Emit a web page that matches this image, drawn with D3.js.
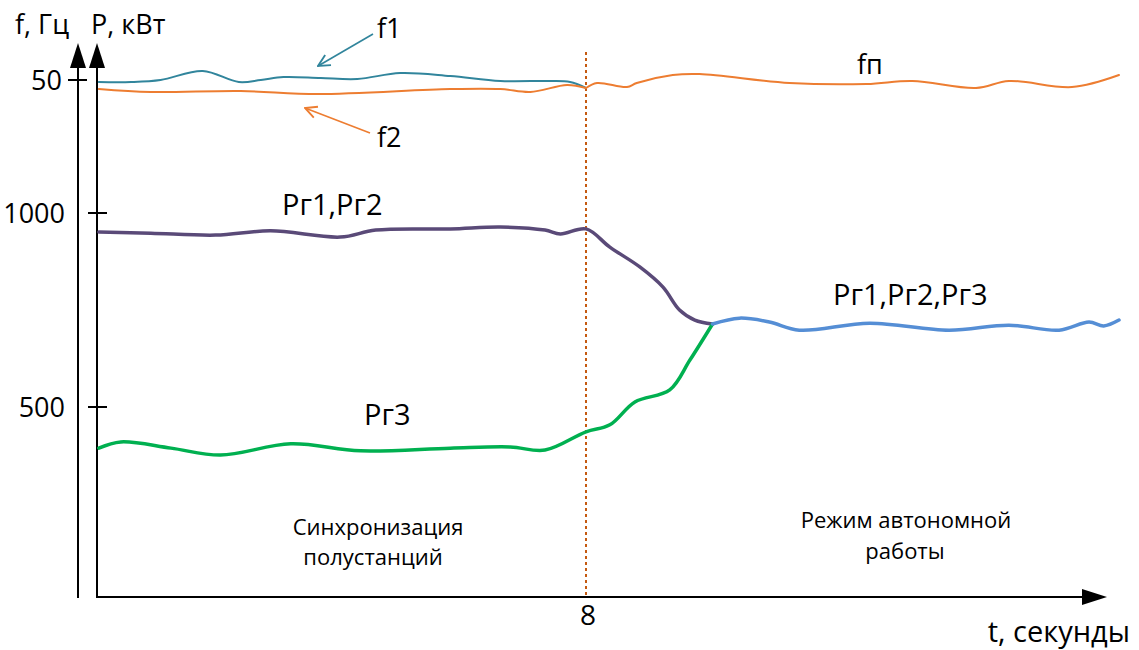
<!DOCTYPE html>
<html>
<meta charset="utf-8">
<title>Синхронизация подстанций</title>
<script src="https://d3js.org/d3.v7.min.js" charset="utf-8"></script>
<style>
	body { margin: 0; background: #fff; }
	text { font-family: "Open Sans", "Noto Sans", sans-serif; fill: #000; }
	.axis-line { stroke: #000; stroke-width: 2; }
</style>
<body>
<script>

	// time, seconds
	var f1T = [0.03, 0.56, 1.04, 1.73, 2.32, 2.68, 3.05, 3.66, 4.26, 4.96, 5.78, 6.60, 7.41, 7.74, 8.0];
	var f1V = [49.98, 49.98, 50.00, 50.09, 49.98, 50.00, 50.03, 50.02, 50.01, 50.07, 50.04, 49.99, 49.99, 49.98, 49.92];

	var f2T = [0.03, 0.88, 2.35, 3.61, 5.78, 6.60, 7.09, 7.69, 8.0];
	var f2V = [49.91, 49.88, 49.89, 49.86, 49.91, 49.91, 49.88, 49.95, 49.92];

	var fpT = [8.0, 8.18, 8.67, 8.83, 9.42, 9.86, 11.33, 12.59, 13.34, 14.38, 14.92, 15.95, 16.72];
	var fpV = [49.92, 49.97, 49.93, 49.97, 50.05, 50.06, 49.97, 49.96, 49.99, 49.92, 49.99, 49.93, 50.05];

	var p12T = [0.03, 0.88, 1.94, 2.84, 3.98, 4.56, 5.78, 6.60, 7.33, 7.58, 8.0, 8.39, 8.88, 9.26, 9.53, 9.78, 10.07];
	var p12V = [951, 948, 943, 954, 938, 956, 959, 964, 956, 946, 959, 912, 861, 809, 750, 724, 714];

	var p3T = [0.03, 0.39, 1.21, 2.02, 3.17, 4.31, 5.78, 6.76, 7.33, 8.0, 8.39, 8.80, 9.37, 9.70, 10.07];
	var p3V = [394, 410, 394, 376, 405, 387, 394, 397, 389, 436, 454, 513, 544, 621, 714];

	var p123T = [10.07, 10.51, 11.0, 11.49, 12.64, 13.94, 14.92, 15.74, 16.23, 16.47, 16.72];
	var p123V = [714, 729, 719, 698, 716, 698, 711, 698, 719, 709, 724];

	var pTicks = [500, 1000];
	var fTicks = [50];
	var tTicks = [8];
	var tSwitch = 8;

	var width = 1139, height = 650;
	var originX = 97, fAxisX = 78, baseY = 597, topY = 43;

	var x = d3.scaleLinear().domain([0, 8]).range([97, 586]);
	var yP = d3.scaleLinear().domain([0, 1000]).range([601, 213]);
	var yF = d3.scaleLinear().domain([48, 50]).range([280, 80]);

	var svg = d3.select("body").append("svg")
		.attr("width", width)
		.attr("height", height);

	var defs = svg.append("defs");
	function openArrow(id, color) {
		defs.append("marker")
			.attr("id", id)
			.attr("viewBox", "0 0 12 12")
			.attr("refX", 11).attr("refY", 6)
			.attr("markerWidth", 14).attr("markerHeight", 14)
			.attr("markerUnits", "userSpaceOnUse")
			.attr("orient", "auto")
			.append("path")
				.attr("d", "M1,1 L11,6 L1,11")
				.attr("fill", "none")
				.attr("stroke", color)
				.attr("stroke-width", 1.6);
	}
	openArrow("arrF1", "#31859C");
	openArrow("arrF2", "#ED7D31");

	/* axes */
	svg.append("line").attr("class", "axis-line")
		.attr("x1", fAxisX).attr("x2", fAxisX).attr("y1", baseY + 1).attr("y2", topY + 20);
	svg.append("line").attr("class", "axis-line")
		.attr("x1", originX).attr("x2", originX).attr("y1", baseY + 1).attr("y2", topY + 20);
	svg.append("line").attr("class", "axis-line")
		.attr("x1", originX - 1).attr("x2", 1085).attr("y1", baseY).attr("y2", baseY);

	[fAxisX, originX].forEach(function(ax) {
		svg.append("path")
			.attr("d", "M" + ax + "," + topY + " L" + (ax + 8) + "," + (topY + 25) + " L" + (ax - 8) + "," + (topY + 25) + "Z")
			.attr("fill", "#000");
	});
	svg.append("path")
		.attr("d", "M1107," + baseY + " L1082," + (baseY - 8) + " L1082," + (baseY + 8) + "Z")
		.attr("fill", "#000");

	/* ticks */
	svg.selectAll(".ptick").data(pTicks).enter().append("line")
		.attr("class", "axis-line ptick")
		.attr("x1", originX - 9).attr("x2", originX + 10)
		.attr("y1", function(d) { return yP(d); }).attr("y2", function(d) { return yP(d); });
	svg.selectAll(".plab").data(pTicks).enter().append("text")
		.attr("x", 65)
		.attr("y", function(d) { return yP(d); })
		.attr("dy", ".36em")
		.attr("text-anchor", "end")
		.style("font-size", "27px")
		.text(function(d) { return d; });

	svg.selectAll(".ftick").data(fTicks).enter().append("line")
		.attr("class", "axis-line ftick")
		.attr("x1", fAxisX - 10).attr("x2", fAxisX + 9)
		.attr("y1", function(d) { return yF(d); }).attr("y2", function(d) { return yF(d); });
	svg.selectAll(".flab").data(fTicks).enter().append("text")
		.attr("x", 62)
		.attr("y", function(d) { return yF(d); })
		.attr("dy", ".36em")
		.attr("text-anchor", "end")
		.style("font-size", "27px")
		.text(function(d) { return d; });

	svg.selectAll(".tlab").data(tTicks).enter().append("text")
		.attr("x", function(d) { return x(d) + 2; })
		.attr("y", 625)
		.attr("text-anchor", "middle")
		.style("font-size", "28px")
		.text(function(d) { return d; });

	/* switch moment */
	svg.append("line")
		.attr("x1", x(tSwitch)).attr("x2", x(tSwitch))
		.attr("y1", 52).attr("y2", baseY)
		.attr("stroke", "#C55A11")
		.attr("stroke-width", 2)
		.attr("stroke-dasharray", "3,3");

	/* curves */
	function zipData(t, v) { return t.map(function(d, i) { return [d, v[i]]; }); }

	var lineF = d3.line()
		.x(function(d) { return x(d[0]); })
		.y(function(d) { return yF(d[1]); })
		.curve(d3.curveCatmullRom.alpha(0.5));
	var lineP = d3.line()
		.x(function(d) { return x(d[0]); })
		.y(function(d) { return yP(d[1]); })
		.curve(d3.curveCatmullRom.alpha(0.5));

	var series = [
		{ d: zipData(f1T, f1V), line: lineF, color: "#31859C", w: 2 },
		{ d: zipData(f2T, f2V), line: lineF, color: "#ED7D31", w: 2 },
		{ d: zipData(fpT, fpV), line: lineF, color: "#ED7D31", w: 2 },
		{ d: zipData(p12T, p12V), line: lineP, color: "#5A4A78", w: 3.5 },
		{ d: zipData(p3T, p3V), line: lineP, color: "#00B050", w: 3.5 },
		{ d: zipData(p123T, p123V), line: lineP, color: "#558ED5", w: 3.5 }
	];

	svg.selectAll(".curve").data(series).enter().append("path")
		.attr("class", "curve")
		.attr("d", function(s) { return s.line(s.d); })
		.attr("fill", "none")
		.attr("stroke", function(s) { return s.color; })
		.attr("stroke-width", function(s) { return s.w; })
		.attr("stroke-linecap", "round");

	/* annotation arrows */
	svg.append("line")
		.attr("x1", 373).attr("y1", 34).attr("x2", 318).attr("y2", 66)
		.attr("stroke", "#31859C").attr("stroke-width", 1.6)
		.attr("marker-end", "url(#arrF1)");
	svg.append("line")
		.attr("x1", 370).attr("y1", 133).attr("x2", 305).attr("y2", 108)
		.attr("stroke", "#ED7D31").attr("stroke-width", 1.6)
		.attr("marker-end", "url(#arrF2)");

	/* labels */
	var labels = [
		{ t: "f, Гц", x: 15, y: 34, s: 27, a: "start" },
		{ t: "P, кВт", x: 91, y: 34, s: 27, a: "start" },
		{ t: "f1", x: 377, y: 38, s: 27, a: "start" },
		{ t: "f2", x: 377, y: 147, s: 27, a: "start" },
		{ t: "fп", x: 857, y: 74, s: 27, a: "start" },
		{ t: "Рг1,Рг2", x: 282, y: 215, s: 29, a: "start" },
		{ t: "Рг3", x: 364, y: 425, s: 29, a: "start" },
		{ t: "Рг1,Рг2,Рг3", x: 833, y: 305, s: 29, a: "start" },
		{ t: "Синхронизация", x: 378, y: 535, s: 22, a: "middle" },
		{ t: "полустанций", x: 373, y: 565, s: 22, a: "middle" },
		{ t: "Режим автономной", x: 906, y: 528, s: 22, a: "middle" },
		{ t: "работы", x: 905, y: 559, s: 22, a: "middle" },
		{ t: "t, секунды", x: 1130, y: 642, s: 29, a: "end" }
	];
	svg.selectAll(".lab").data(labels).enter().append("text")
		.attr("class", "lab")
		.attr("x", function(d) { return d.x; })
		.attr("y", function(d) { return d.y; })
		.attr("text-anchor", function(d) { return d.a; })
		.style("font-size", function(d) { return d.s + "px"; })
		.text(function(d) { return d.t; });

</script>
</body>
</html>
